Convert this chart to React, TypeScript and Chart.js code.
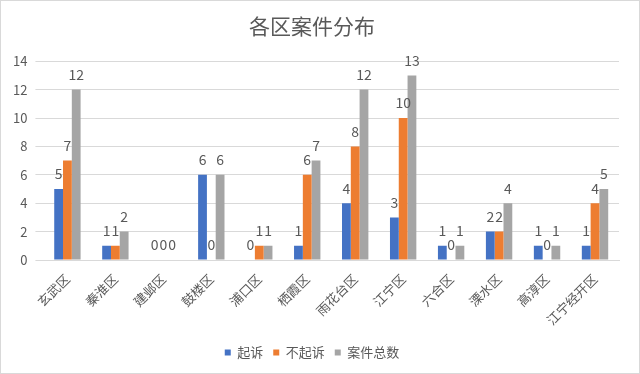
import React, { useEffect, useRef } from "react";
import { Chart, registerables } from "chart.js";

Chart.register(...registerables);

const categories = ["玄武区", "秦淮区", "建邺区", "鼓楼区", "浦口区", "栖霞区", "雨花台区", "江宁区", "六合区", "溧水区", "高淳区", "江宁经开区"];
const prosecuted = [5, 1, 0, 6, 0, 1, 4, 3, 1, 2, 1, 1];
const notProsecuted = [7, 1, 0, 0, 1, 6, 8, 10, 0, 2, 0, 4];
const totalCases = [12, 2, 0, 6, 1, 7, 12, 13, 1, 4, 1, 5];
const yTicks = [0, 2, 4, 6, 8, 10, 12, 14];

const FONT = '"Noto Sans CJK SC", "Noto Sans", sans-serif';
const TEXT = "#595959";

const labelPlugin = {
  id: "valueLabels",
  afterDatasetsDraw(chart: any) {
    const ctx = chart.ctx;
    ctx.save();
    ctx.font = `14px ${FONT}`;
    ctx.fillStyle = TEXT;
    ctx.textAlign = "center";
    ctx.textBaseline = "middle";
    chart.data.datasets.forEach((ds: any, i: number) => {
      const meta = chart.getDatasetMeta(i);
      meta.data.forEach((el: any, j: number) => {
        ctx.fillText(String(ds.data[j]), el.x, el.y - 15);
      });
    });
    ctx.restore();
  },
};

export default function App() {
  const ref = useRef<HTMLCanvasElement>(null);
  useEffect(() => {
    if (!ref.current) return;
    const chart = new Chart(ref.current, {
      type: "bar",
      data: {
        labels: categories,
        datasets: [
          { label: "起诉", data: prosecuted, backgroundColor: "#4472C4" },
          { label: "不起诉", data: notProsecuted, backgroundColor: "#ED7D31" },
          { label: "案件总数", data: totalCases, backgroundColor: "#A5A5A5" },
        ],
      },
      options: {
        animation: false,
        responsive: true,
        maintainAspectRatio: false,
        datasets: { bar: { categoryPercentage: 0.55, barPercentage: 1 } },
        layout: { padding: { left: 4, right: 20, top: 0, bottom: 4 } },
        plugins: {
          title: {
            display: true,
            text: "各区案件分布",
            color: TEXT,
            font: { family: FONT, size: 21, weight: "normal" },
            padding: { top: 12, bottom: 23 },
          },
          legend: {
            position: "bottom",
            labels: {
              color: TEXT,
              font: { family: FONT, size: 13 },
              boxWidth: 6,
              boxHeight: 6,
              padding: 10,
            },
          },
          tooltip: { enabled: false },
        },
        scales: {
          x: {
            grid: { display: false },
            border: { display: true, color: "#D9D9D9" },
            afterFit: (s: any) => {
              s.height += 5;
            },
            ticks: {
              color: TEXT,
              font: { family: FONT, size: 13 },
              maxRotation: 45,
              minRotation: 45,
              autoSkip: false,
            },
          },
          y: {
            min: 0,
            max: 14,
            afterBuildTicks: (axis: any) => {
              axis.ticks = yTicks.map((v) => ({ value: v }));
            },
            grid: { color: "#D9D9D9" },
            border: { display: false },
            ticks: {
              color: TEXT,
              font: { family: FONT, size: 13 },
              padding: 8,
            },
          },
        },
      },
      plugins: [labelPlugin],
    });
    return () => chart.destroy();
  }, []);
  return (
    <div
      style={{
        position: "fixed",
        left: 0,
        top: 0,
        width: 640,
        height: 374,
        boxSizing: "border-box",
        border: "1px solid #D9D9D9",
        background: "#fff",
      }}
    >
      <canvas ref={ref} />
    </div>
  );
}
